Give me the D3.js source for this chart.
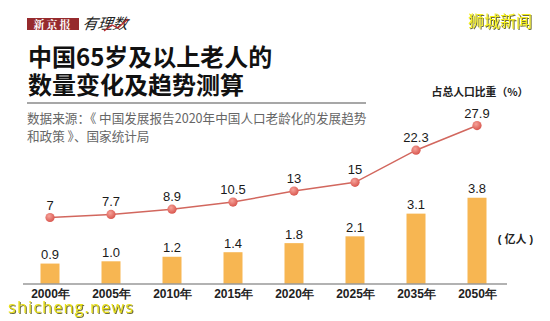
<!DOCTYPE html>
<html>
<head>
<meta charset="utf-8">
<script src="https://cdn.jsdelivr.net/npm/d3@7"></script>
<style>
  html, body { margin: 0; padding: 0; background: #fff; }
  svg { display: block; }
</style>
</head>
<body>
<svg id="chart" width="550" height="321"></svg>
<script>
// Data
const years = ["2000年", "2005年", "2010年", "2015年", "2020年", "2025年", "2035年", "2050年"];
const population = [0.9, 1.0, 1.2, 1.4, 1.8, 2.1, 3.1, 3.8];      // 亿人
const share = [7, 7.7, 8.9, 10.5, 13, 15, 22.3, 27.9];             // 占总人口比重 %
const popLabels = ["0.9", "1.0", "1.2", "1.4", "1.8", "2.1", "3.1", "3.8"];
const shareLabels = ["7", "7.7", "8.9", "10.5", "13", "15", "22.3", "27.9"];

const svg = d3.select("#chart");
const cjk = "'Noto Sans CJK SC', 'Noto Sans', sans-serif";
const num = "'Liberation Sans', Arial, sans-serif";

// Header: brand marks
const brand = svg.append("g");
brand.append("rect").attr("x", 27).attr("y", 18).attr("width", 52).attr("height", 12).attr("fill", "#962a2d");
brand.append("text").attr("x", 53).attr("y", 28.5).attr("text-anchor", "middle")
  .attr("font-family", "'Noto Serif CJK SC', 'Noto Sans CJK SC', serif").attr("font-weight", 700)
  .attr("font-size", 11).attr("letter-spacing", 2).attr("fill", "#fff").text("新京报");
brand.append("text").attr("x", 82).attr("y", 29).attr("font-family", cjk)
  .attr("font-size", 15).attr("font-style", "italic").attr("fill", "#222")
  .attr("transform", "skewX(-8) translate(4,0)").text("有理数");
brand.append("path").attr("d", "M104,31 L112,25 L118,28 L128,19").attr("fill", "none")
  .attr("stroke", "#b8262b").attr("stroke-width", 1.2);

// Watermarks
const wmShadow = "drop-shadow(1px 1px 0.6px rgba(60,60,0,0.75))";
svg.append("text").attr("x", 532).attr("y", 26.5).attr("text-anchor", "end")
  .attr("font-family", cjk).attr("font-size", 16).attr("fill", "#f4ee1c")
  .style("filter", wmShadow).text("狮城新闻");

// Title
const title = svg.append("g").attr("font-family", cjk).attr("font-weight", 700).attr("fill", "#111").attr("font-size", 24);
title.append("text").attr("x", 28).attr("y", 66).text("中国65岁及以上老人的");
title.append("text").attr("x", 28).attr("y", 94).text("数量变化及趋势测算");

svg.append("line").attr("x1", 27).attr("x2", 366).attr("y1", 103).attr("y2", 103)
  .attr("stroke", "#8a8a8a").attr("stroke-width", 1.5);

const src = svg.append("g").attr("font-family", cjk).attr("font-size", 12.6).attr("fill", "#666");
src.append("text").attr("x", 27).attr("y", 123).text("数据来源：《 中国发展报告2020年中国人口老龄化的发展趋势");
src.append("text").attr("x", 27).attr("y", 141).text("和政策 》、国家统计局");

// Scales
const x = d3.scalePoint().domain(years).range([50, 477]);
const yBar = d3.scaleLinear().domain([0, 4]).range([284, 284 - 4 * 22.7]);
const yLine = d3.scaleLinear().domain([0, 30]).range([248.3, 248.3 - 30 * 4.4]);
const barW = 19;

// Bars
svg.append("g").selectAll("rect").data(population).join("rect")
  .attr("x", (d, i) => x(years[i]) - barW / 2)
  .attr("y", d => yBar(d))
  .attr("width", barW)
  .attr("height", d => yBar(0) - yBar(d))
  .attr("fill", "#f7b652");

svg.append("g").selectAll("text").data(population).join("text")
  .attr("x", (d, i) => x(years[i]))
  .attr("y", d => yBar(d) - 4.5)
  .attr("text-anchor", "middle")
  .attr("font-family", num).attr("font-size", 13).attr("fill", "#1a1a1a")
  .text((d, i) => popLabels[i]);

// Baseline axis with year labels
const xAxis = d3.axisBottom(x).tickSize(0).tickPadding(14);
const axisG = svg.append("g").attr("transform", `translate(0,${yBar(0)})`).call(xAxis);
axisG.select(".domain").remove();
axisG.append("line").attr("x1", 23).attr("x2", 507).attr("y1", 0).attr("y2", 0)
  .attr("stroke", "#999").attr("stroke-width", 1.5);
axisG.selectAll(".tick text")
  .attr("font-family", num).attr("font-weight", 700).attr("font-size", 12).attr("fill", "#222")
  .attr("dy", "0");

// Share line
const defs = svg.append("defs");
const grad = defs.append("radialGradient").attr("id", "dotGrad").attr("cx", "40%").attr("cy", "35%").attr("r", "65%");
grad.append("stop").attr("offset", "0%").attr("stop-color", "#f6a39a");
grad.append("stop").attr("offset", "100%").attr("stop-color", "#d9574f");

const line = d3.line().x((d, i) => x(years[i])).y(d => yLine(d));
svg.append("path").datum(share).attr("d", line).attr("fill", "none")
  .attr("stroke", "#d2675e").attr("stroke-width", 1.5);

svg.append("g").selectAll("circle").data(share).join("circle")
  .attr("cx", (d, i) => x(years[i]))
  .attr("cy", d => yLine(d))
  .attr("r", 4.6)
  .attr("fill", "url(#dotGrad)");

svg.append("g").selectAll("text").data(share).join("text")
  .attr("x", (d, i) => x(years[i]))
  .attr("y", d => yLine(d) - 8)
  .attr("text-anchor", "middle")
  .attr("font-family", num).attr("font-size", 13).attr("fill", "#1a1a1a")
  .text((d, i) => shareLabels[i]);

// Unit labels
svg.append("text").attr("x", 480).attr("y", 96).attr("text-anchor", "middle")
  .attr("font-family", cjk).attr("font-weight", 700).attr("font-size", 10.8).attr("fill", "#222")
  .text("占总人口比重（%）");
const unit = svg.append("text").attr("x", 515.5).attr("y", 243).attr("text-anchor", "middle")
  .attr("font-weight", 700).attr("font-size", 11).attr("fill", "#222");
unit.append("tspan").attr("font-family", num).text("( ");
unit.append("tspan").attr("font-family", cjk).text("亿人");
unit.append("tspan").attr("font-family", num).text(" )");

// Bottom watermark
svg.append("text").attr("x", 8).attr("y", 313).attr("font-family", "'Open Sans', 'DejaVu Sans', sans-serif")
  .attr("font-size", 16.5).attr("textLength", 125).attr("lengthAdjust", "spacing")
  .attr("fill", "#e9e01a").style("filter", wmShadow)
  .text("shicheng.news");
</script>
</body>
</html>
